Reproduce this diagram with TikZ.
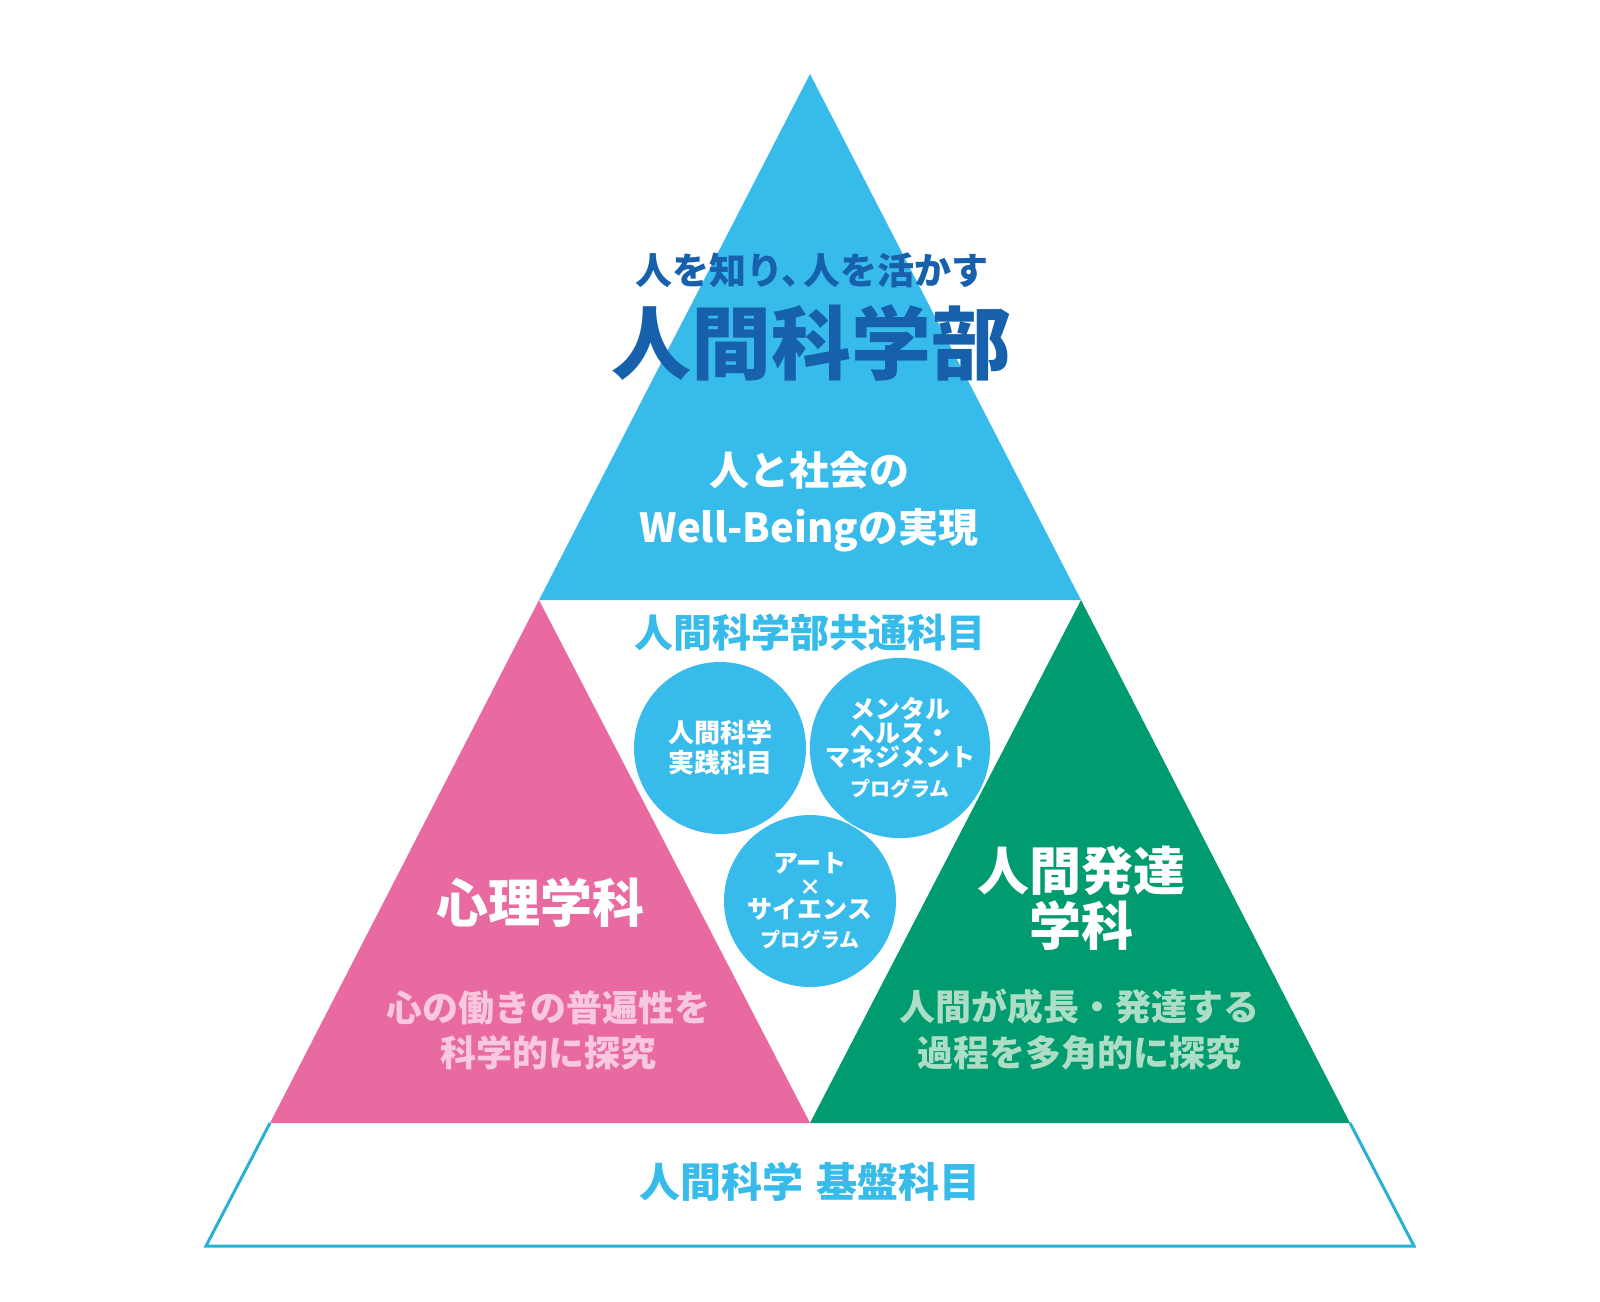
\documentclass[tikz,border=0pt]{standalone}
\usepackage{fontspec}
\setmainfont{Noto Sans CJK JP}
\usepackage{tikz}
\usetikzlibrary{positioning}
\definecolor{skyblue}{RGB}{54,187,235}
\definecolor{rimblue}{RGB}{42,176,214}
\definecolor{deepblue}{RGB}{22,96,172}
\definecolor{rose}{RGB}{232,106,160}
\definecolor{rosetext}{RGB}{248,200,222}
\definecolor{deptgreen}{RGB}{0,155,110}
\definecolor{deptgreentext}{RGB}{172,222,198}
\newcommand{\jp}[2]{\fontsize{#1}{#2}\selectfont\bfseries}
\tikzset{jtext/.style = {inner sep=0pt, align=center},
         course/.style = {circle, fill=skyblue, minimum size=172pt, inner sep=0pt,
                          align=center, text=white}}

\begin{document}
\begin{tikzpicture}[x=1pt, y=-1pt]
    \useasboundingbox (0, 0) rectangle (1600, 1301);

    \coordinate (apex) at (810, 74);
    \coordinate (bl) at (539, 600);
    \coordinate (br) at (1081, 600);
    \coordinate (pl) at (270, 1123);
    \coordinate (mid) at (810, 1123);
    \coordinate (gr) at (1350, 1123);
    \coordinate (obl) at (206, 1246);
    \coordinate (obr) at (1414, 1246);

    \fill [skyblue] (apex) -- (bl) -- (br) -- cycle;
    \fill [rose] (bl) -- (pl) -- (mid) -- cycle;
    \fill [deptgreen] (br) -- (mid) -- (gr) -- cycle;
    \draw [rimblue, line width=3pt] (pl) -- (obl) -- (obr) -- (gr);

    \node [jtext, text=deepblue, font=\jp{37}{40}] (motto) at (812, 270) {人を知り、\hspace{-0.4em}人を活かす};
    \node [jtext, text=deepblue, font=\jp{80}{90}] (faculty) at (811, 343) {人間科学部};
    \node [jtext, text=white, font=\jp{40}{57}] (goal) at (809, 502) {人と社会の\\Well-Beingの実現};

    \node [jtext, text=skyblue, font=\jp{39}{44}] (common) at (810, 633) {人間科学部共通科目};
    \node [course, font=\jp{26}{30}] (practice) at (720, 748) {人間科学\\実践科目};
    \node [course, font=\jp{25}{24}] (mental) at (900, 748)
        {メンタル\\ヘルス・\\マネジメント\\[6pt]{\jp{20}{20}プログラム}};
    \node [course, font=\jp{25}{23}] (art) at (810, 901)
        {アート\\{\jp{22}{22}×}\\サイエンス\\[6pt]{\jp{20}{20}プログラム}};

    \node [jtext, text=white, font=\jp{52}{56}] (psych) at (540, 903) {心理学科};
    \node [jtext, text=rosetext, font=\jp{36}{45}] (psychdesc) at (548, 1030)
        {心の働きの普遍性を\\科学的に探究};
    \node [jtext, text=white, font=\jp{52}{55}] (dev) at (1081, 898) {人間発達\\学科};
    \node [jtext, text=deptgreentext, font=\jp{36}{46}] (devdesc) at (1079, 1030)
        {人間が成長・発達する\\過程を多角的に探究};

    \node [jtext, text=skyblue, font=\jp{41}{44}] (basic) at (810, 1182) {人間科学\hspace{0.3em}基盤科目};
  \end{tikzpicture}
\end{document}
